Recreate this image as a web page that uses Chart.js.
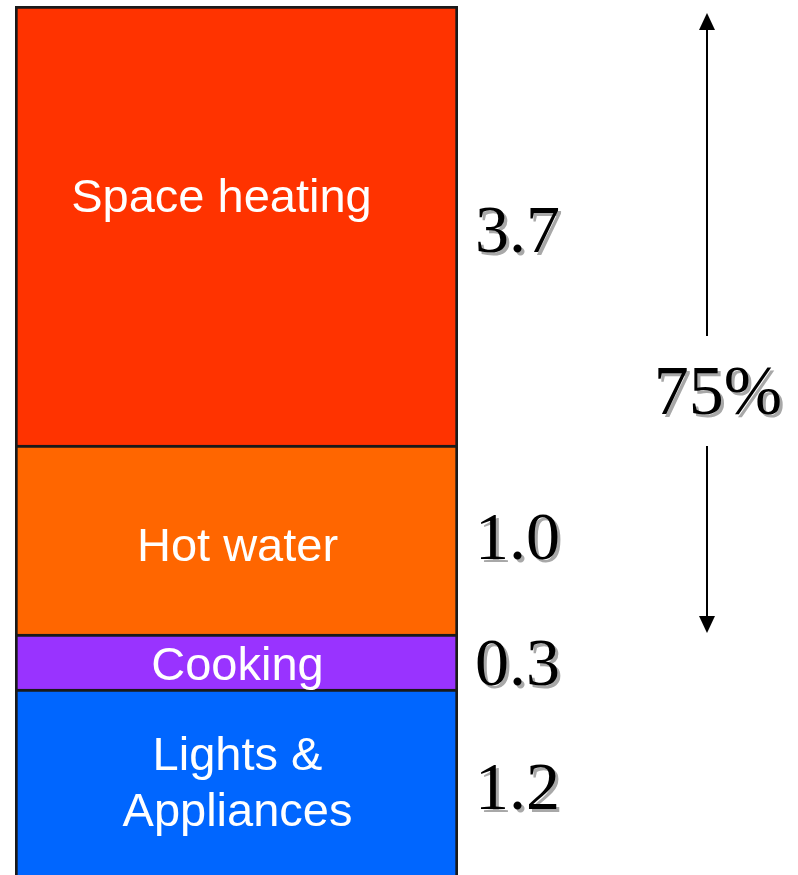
<!DOCTYPE html>
<html>
<head>
<meta charset="utf-8">
<script src="https://cdn.jsdelivr.net/npm/chart.js@4"></script>
<style>
  html, body { margin: 0; padding: 0; background: #ffffff; }
  canvas { display: block; }
</style>
</head>
<body>
<canvas id="c" width="798" height="875"></canvas>
<script>
// Segments, bottom to top
const categories = ['Lights & Appliances', 'Cooking', 'Hot water', 'Space heating'];
const segmentLabels = [['Lights &', 'Appliances'], ['Cooking'], ['Hot water'], ['Space heating']];
// Heights of each segment as drawn in the picture (schematic, not to scale with values)
const segmentHeights = [1.86, 0.55, 1.89, 4.39];
// Values written beside each segment
const valueLabels = ['1.2', '0.3', '1.0', '3.7'];
const shareLabel = '75%';
const colors = ['#0066FF', '#9933FF', '#FF6600', '#FF3300'];

const total = segmentHeights.reduce((a, b) => a + b, 0);

const annot = {
  id: 'annot',
  afterDatasetsDraw(chart) {
    const ctx = chart.ctx;
    const yS = chart.scales.y;
    const labelOffsets = [3, 6, 9, -26];
    const valueOffsets = [9, 6, 2, 9];
    ctx.save();
    chart.data.datasets.forEach((ds, i) => {
      const el = chart.getDatasetMeta(i).data[0];
      const top = el.y, bottom = el.base;
      const cy = (top + bottom) / 2;
      // label inside bar
      ctx.fillStyle = '#ffffff';
      ctx.font = '47px "Liberation Sans", Arial, sans-serif';
      ctx.textAlign = 'center';
      ctx.textBaseline = 'middle';
      const lines = segmentLabels[i];
      const cx = el.x + (i === 3 ? -15 : 1);
      const lh = 56;
      lines.forEach((ln, k) => {
        const y = cy + labelOffsets[i] + (k - (lines.length - 1) / 2) * lh;
        ctx.fillText(ln, cx, y);
      });
      // value beside bar
      ctx.font = '68px "Liberation Serif", "Times New Roman", serif';
      ctx.textAlign = 'left';
      const vx = el.x + el.width / 2 + 17;
      const vy = cy + valueOffsets[i];
      ctx.fillStyle = '#a8a8a8';
      ctx.fillText(valueLabels[i], vx + 3, vy + 3);
      ctx.fillStyle = '#000000';
      ctx.fillText(valueLabels[i], vx, vy);
    });
    // arrow spanning Space heating + Hot water
    const ax = 707;
    const yTop = yS.getPixelForValue(total) + 7;
    const yBot = yS.getPixelForValue(segmentHeights[0] + segmentHeights[1]) - 1;
    const textY = yTop + 383;
    ctx.strokeStyle = '#000000';
    ctx.lineWidth = 2;
    ctx.beginPath();
    ctx.moveTo(ax, yTop + 12); ctx.lineTo(ax, textY - 60);
    ctx.moveTo(ax, textY + 50); ctx.lineTo(ax, yBot - 12);
    ctx.stroke();
    ctx.fillStyle = '#000000';
    ctx.beginPath();
    ctx.moveTo(ax, yTop); ctx.lineTo(ax - 8, yTop + 17); ctx.lineTo(ax + 8, yTop + 17); ctx.closePath(); ctx.fill();
    ctx.beginPath();
    ctx.moveTo(ax, yBot); ctx.lineTo(ax - 8, yBot - 17); ctx.lineTo(ax + 8, yBot - 17); ctx.closePath(); ctx.fill();
    ctx.font = '70px "Liberation Serif", "Times New Roman", serif';
    ctx.textAlign = 'center';
    ctx.textBaseline = 'middle';
    ctx.fillStyle = '#a8a8a8';
    ctx.fillText(shareLabel, 718 + 3, textY + 3);
    ctx.fillStyle = '#000000';
    ctx.fillText(shareLabel, 718, textY);
    ctx.restore();
  }
};

new Chart(document.getElementById('c'), {
  type: 'bar',
  data: {
    labels: [''],
    datasets: categories.map((name, i) => ({
      label: name,
      data: [segmentHeights[i]],
      backgroundColor: colors[i],
      borderColor: '#1a1a1a',
      borderWidth: 3,
      borderSkipped: 'start',
      categoryPercentage: 1,
      barPercentage: 1
    }))
  },
  options: {
    responsive: false,
    animation: false,
    layout: { padding: { left: 15, right: 340, top: 6, bottom: 0 } },
    plugins: { legend: { display: false }, tooltip: { enabled: false } },
    scales: {
      x: { display: false, stacked: true },
      y: { display: false, stacked: true, min: 0, max: total }
    }
  },
  plugins: [annot]
});
</script>
</body>
</html>
